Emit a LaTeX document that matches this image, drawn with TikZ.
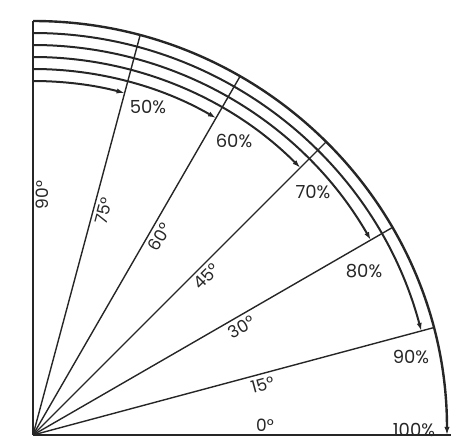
\documentclass[tikz,border=0pt]{standalone}
\usepackage{fontspec}
\setmainfont{Poppins}
\usetikzlibrary{arrows.meta}
\definecolor{inkBlack}{HTML}{262626}

\begin{document}
\begin{tikzpicture}[x=0.5pt,y=0.5pt,
    ray/.style={draw=inkBlack,line width=0.7pt},
    ring/.style={draw=inkBlack,line width=1pt,-{Latex[length=4pt,width=2.6pt]}},
    deglbl/.style={font=\fontsize{8.5}{9}\selectfont,text=inkBlack,inner sep=0pt},
    pctlbl/.style={font=\fontsize{9}{10}\selectfont,text=inkBlack,inner sep=0pt}]
  \useasboundingbox (-33,-5) rectangle (418,435);
  \coordinate (O) at (0,0);
  % radial lines
  \draw[ray] (O) -- (418,0) coordinate (E);
  \foreach \a in {15,30,...,90}
    \draw[ray] (O) -- (\a:414) coordinate (R\a);
  % arcs, each one stops at its ray
  \foreach \r/\e in {354/75,366/60,378/45,390/30,402/15}
    \draw[ring] (90:\r) arc[start angle=90,end angle=\e,radius=\r];
  \draw[ring,line width=1.2pt] (90:414) arc[start angle=90,end angle=0,radius=414];
  % angles
  \foreach \a in {15,30,45,60,75}
    \node[deglbl,rotate=\a] (d\a) at ({\a-2.6}:235) {\a°};
  \node[deglbl,rotate=90] (d90) at (9,240) {90°};
  \node[deglbl] (d0) at (232,10) {0°};
  % percentages
  \node[pctlbl] (p50) at (115,328) {50\%};
  \node[pctlbl] (p60) at (201,294) {60\%};
  \node[pctlbl] (p70) at (280,243) {70\%};
  \node[pctlbl] (p80) at (331,164) {80\%};
  \node[pctlbl] (p90) at (378,78) {90\%};
  \node[pctlbl] (p100) at (381,5) {100\%};
\end{tikzpicture}
\end{document}
